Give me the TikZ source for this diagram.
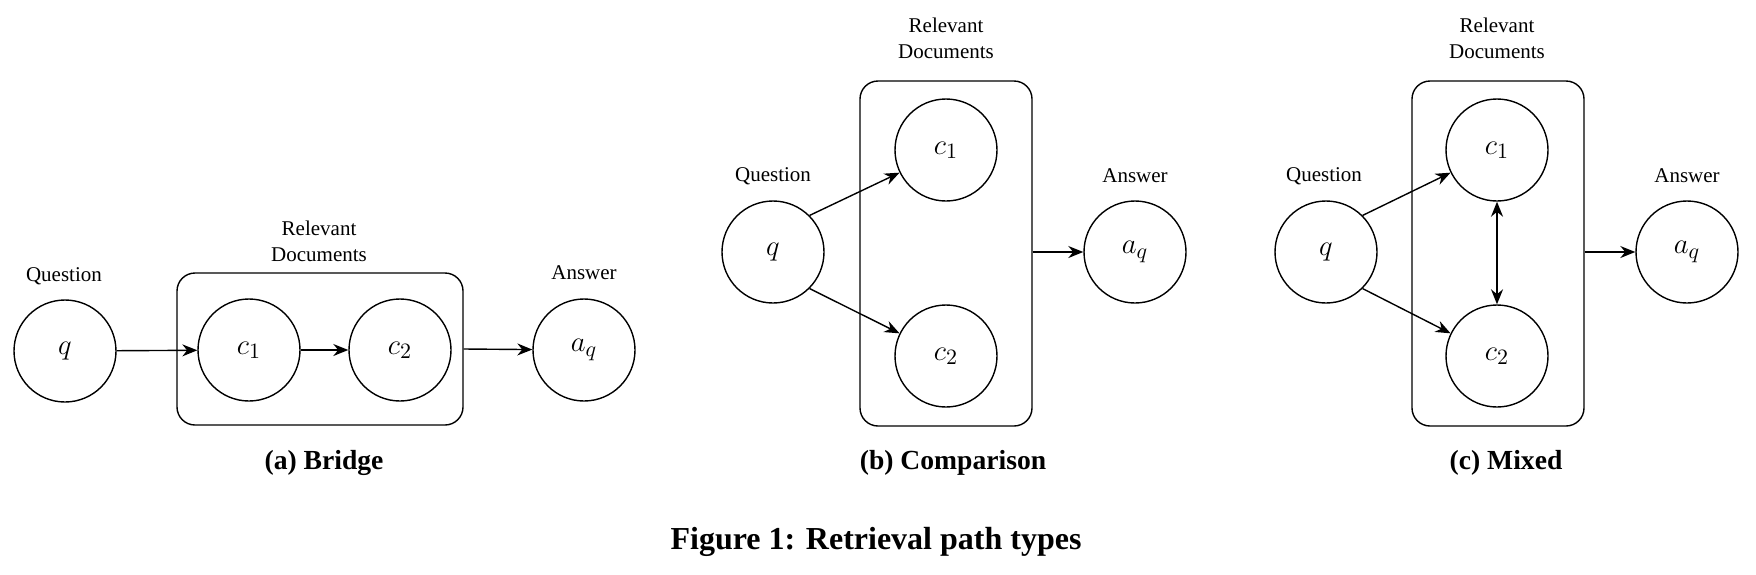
\documentclass[tikz,border=0pt]{standalone}
\usepackage{fontspec}
\setmainfont{Liberation Serif}
\usetikzlibrary{arrows.meta}

\begin{document}
\begin{tikzpicture}[x=0.5pt,y=-0.5pt,line width=0.7pt,
	every node/.style={inner sep=0pt},
	vtx/.style={draw,circle,minimum size=51pt,font=\fontsize{15.5}{18}\selectfont},
	grp/.style={draw,rectangle,rounded corners=9pt},
	lbl/.style={font=\fontsize{10.5}{13}\selectfont,align=center},
	subcap/.style={font=\bfseries\fontsize{13.8}{16}\selectfont},
	edge/.style={-{Stealth[length=7.5pt,width=6pt]}},
	twoway/.style={{Stealth[length=7.5pt,width=6pt]}-{Stealth[length=7.5pt,width=6pt]}}]
	\useasboundingbox (0,0) rectangle (1756,574);

	% (a) bridge
	\node[grp,minimum width=143pt,minimum height=76pt] (boxa) at (320,349) {};
	\node[vtx] (qa) at (65,351) {$q$};
	\node[vtx] (ca1) at (249,350) {$c_1$};
	\node[vtx] (ca2) at (400,350) {$c_2$};
	\node[vtx] (aqa) at (584,350) {$a_q$};
	\node[lbl] (qlbla) at (64,276) {Question};
	\node[lbl] (dlbla) at (319,241) {Relevant\\Documents};
	\node[lbl] (albla) at (584,273) {Answer};
	\node[subcap] (capa) at (324,463) {(a) Bridge};
	\draw[edge] (qa) -- (ca1);
	\draw[edge] (ca1) -- (ca2);
	\draw[edge] (boxa.east) -- (aqa);

	% (b) comparison
	\node[grp,minimum width=86pt,minimum height=172.5pt] (boxb) at (946,253.5) {};
	\node[vtx] (qb) at (773,252) {$q$};
	\node[vtx] (cb1) at (946,150) {$c_1$};
	\node[vtx] (cb2) at (946,356) {$c_2$};
	\node[vtx] (aqb) at (1135,252) {$a_q$};
	\node[lbl] (qlblb) at (773,176) {Question};
	\node[lbl] (dlblb) at (946,38) {Relevant\\Documents};
	\node[lbl] (alblb) at (1135,176) {Answer};
	\node[subcap] (capb) at (953,463) {(b) Comparison};
	\draw[edge] (qb.45) -- (cb1.206);
	\draw[edge] (qb.-45) -- (cb2.154);
	\draw[edge] (boxb.east |- aqb) -- (aqb);

	% (c) mixed
	\node[grp,minimum width=86pt,minimum height=172.5pt] (boxc) at (1498,253.5) {};
	\node[vtx] (qc) at (1326,252) {$q$};
	\node[vtx] (cc1) at (1497,150) {$c_1$};
	\node[vtx] (cc2) at (1497,356) {$c_2$};
	\node[vtx] (aqc) at (1687,252) {$a_q$};
	\node[lbl] (qlblc) at (1324,176) {Question};
	\node[lbl] (dlblc) at (1497,38) {Relevant\\Documents};
	\node[lbl] (alblc) at (1687,176) {Answer};
	\node[subcap] (capc) at (1506,463) {(c) Mixed};
	\draw[edge] (qc.45) -- (cc1.206);
	\draw[edge] (qc.-45) -- (cc2.154);
	\draw[twoway] (cc1) -- (cc2);
	\draw[edge] (boxc.east |- aqc) -- (aqc);

	% caption
	\node[font=\bfseries\fontsize{16}{19}\selectfont] (fig) at (876,542) {Figure 1: Retrieval path types};
\end{tikzpicture}
\end{document}
